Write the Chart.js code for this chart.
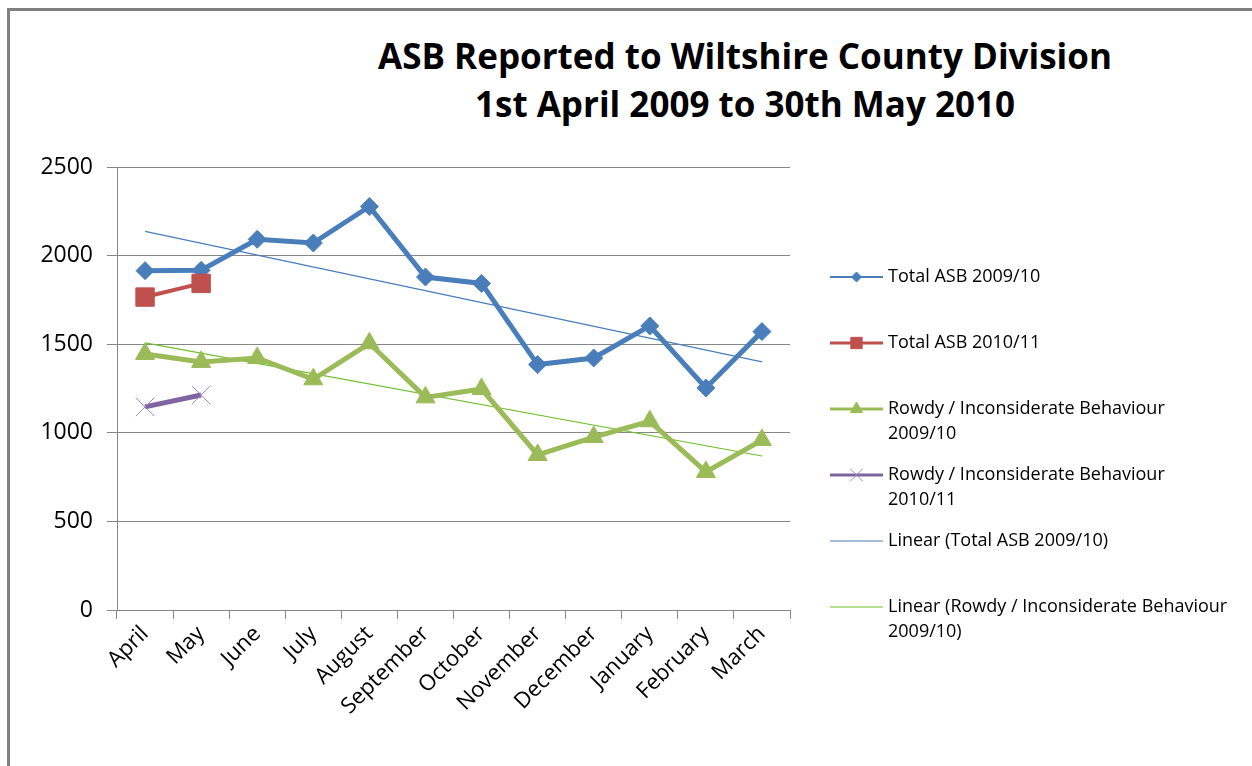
<!DOCTYPE html>
<html lang="en">
<head>
    <meta charset="UTF-8">
    <title>ASB Reported to Wiltshire County Division</title>
    <style>
        body {
            margin: 0;
            padding: 0;
            background: #ffffff;
            font-family: "Open Sans", Arial, sans-serif;
        }

        #frame {
            position: absolute;
            left: 7px;
            top: 8px;
            width: 1300px;
            height: 800px;
            border-left: 3px solid #7f7f7f;
            border-top: 3px solid #7f7f7f;
        }

        #title {
            position: absolute;
            left: 345px;
            top: 32px;
            width: 800px;
            text-align: center;
            font-weight: 700;
            font-size: 35px;
            line-height: 48px;
            color: #000;
        }

        #wrap {
            position: absolute;
            left: 0;
            top: 0;
            width: 1252px;
            height: 766px;
        }
    </style>
</head>
<body>
    <div id="frame"></div>
    <div id="title">ASB Reported to Wiltshire County Division<br>1st April 2009 to 30th May 2010</div>
    <div id="wrap"><canvas id="asbChart" width="1252" height="766"></canvas></div>

    <script src="https://cdn.jsdelivr.net/npm/chart.js@4.4.1/dist/chart.umd.min.js"></script>
    <script>
        const months = ['April', 'May', 'June', 'July', 'August', 'September', 'October',
            'November', 'December', 'January', 'February', 'March'];
        const yTicks = [0, 500, 1000, 1500, 2000, 2500];

        const totalAsb0910 = [1915, 1917, 2092, 2071, 2277, 1879, 1843, 1385, 1422, 1603, 1253, 1571];
        const totalAsb1011 = [1766, 1843, null, null, null, null, null, null, null, null, null, null];
        const rowdy0910 = [1445, 1400, 1422, 1302, 1505, 1200, 1247, 875, 976, 1065, 779, 959];
        const rowdy1011 = [1146, 1213, null, null, null, null, null, null, null, null, null, null];
        // trend lines at first and last month
        const trendTotal0910 = [2137, null, null, null, null, null, null, null, null, null, null, 1400];
        const trendRowdy0910 = [1507, null, null, null, null, null, null, null, null, null, null, 869];

        const gridColor = '#868686';
        const fontFamily = '"Open Sans", Arial, sans-serif';

        // legend drawn on the canvas, Excel style (line swatch + marker, wrapped text)
        const sideLegend = {
            id: 'sideLegend',
            afterDraw(chart) {
                const c = chart.ctx;
                const left = 830, swatch = 53, textX = 888;
                let y = 277;
                c.save();
                c.font = '18px ' + fontFamily;
                c.textBaseline = 'middle';
                chart.data.datasets.forEach(ds => {
                    c.strokeStyle = ds.borderColor;
                    c.lineWidth = ds.legendLine || 2;
                    c.beginPath();
                    c.moveTo(left, y);
                    c.lineTo(left + swatch, y);
                    c.stroke();
                    if (ds.pointRadius > 0) {
                        c.fillStyle = ds.pointBackgroundColor;
                        c.strokeStyle = ds.pointBorderColor;
                        c.lineWidth = ds.pointBorderWidth;
                        Chart.helpers.drawPoint(c, {
                            pointStyle: ds.pointStyle,
                            radius: ds.legendRadius,
                            borderWidth: ds.pointBorderWidth,
                            rotation: 0
                        }, left + swatch / 2, y);
                    }
                    // wrap the last word when the label is long
                    let lines = [ds.label];
                    if (c.measureText(ds.label).width > 320) {
                        const cut = ds.label.lastIndexOf(' ');
                        lines = [ds.label.slice(0, cut), ds.label.slice(cut + 1)];
                    }
                    c.fillStyle = '#000';
                    lines.forEach((t, i) => c.fillText(t, textX, y + i * 25));
                    y += 66;
                });
                c.restore();
            }
        };

        const ctx = document.getElementById('asbChart').getContext('2d');

        new Chart(ctx, {
            type: 'line',
            data: {
                labels: months,
                datasets: [
                    {
                        label: 'Total ASB 2009/10',
                        data: totalAsb0910,
                        borderColor: '#4a7ebb',
                        backgroundColor: '#4a7ebb',
                        pointBackgroundColor: '#4a7ebb',
                        pointBorderColor: '#4a7ebb',
                        borderWidth: 5,
                        pointStyle: 'rectRot',
                        pointRadius: 9,
                        pointBorderWidth: 1,
                        legendRadius: 5,
                        legendLine: 2,
                        order: 2
                    },
                    {
                        label: 'Total ASB 2010/11',
                        data: totalAsb1011,
                        borderColor: '#c0504d',
                        backgroundColor: '#c0504d',
                        pointBackgroundColor: '#c0504d',
                        pointBorderColor: '#c0504d',
                        borderWidth: 4,
                        pointStyle: 'rect',
                        pointRadius: 13,
                        pointBorderWidth: 1,
                        legendRadius: 8,
                        legendLine: 3,
                        order: 1
                    },
                    {
                        label: 'Rowdy / Inconsiderate Behaviour 2009/10',
                        data: rowdy0910,
                        borderColor: '#9bbb59',
                        backgroundColor: '#9bbb59',
                        pointBackgroundColor: '#9bbb59',
                        pointBorderColor: '#9bbb59',
                        borderWidth: 5,
                        pointStyle: 'triangle',
                        pointRadius: 11,
                        pointBorderWidth: 1,
                        legendRadius: 7,
                        legendLine: 3,
                        order: 4
                    },
                    {
                        label: 'Rowdy / Inconsiderate Behaviour 2010/11',
                        data: rowdy1011,
                        borderColor: '#8064a2',
                        backgroundColor: '#8064a2',
                        pointBackgroundColor: '#8064a2',
                        pointBorderColor: '#9a85c0',
                        borderWidth: 5,
                        pointStyle: 'crossRot',
                        pointRadius: 13,
                        pointBorderWidth: 1,
                        legendRadius: 9,
                        legendLine: 3,
                        order: 3
                    },
                    {
                        label: 'Linear (Total ASB 2009/10)',
                        data: trendTotal0910,
                        borderColor: '#4a7ebb',
                        borderWidth: 1.2,
                        pointRadius: 0,
                        spanGaps: true,
                        legendLine: 1.2,
                        order: 6
                    },
                    {
                        label: 'Linear (Rowdy / Inconsiderate Behaviour 2009/10)',
                        data: trendRowdy0910,
                        borderColor: '#6fc02e',
                        borderWidth: 1.2,
                        pointRadius: 0,
                        spanGaps: true,
                        legendLine: 1.2,
                        order: 5
                    }
                ]
            },
            options: {
                responsive: false,
                animation: false,
                layout: {
                    padding: { left: 0, top: 167, right: 462, bottom: 0 }
                },
                plugins: {
                    legend: { display: false },
                    title: { display: false },
                    tooltip: { enabled: false }
                },
                scales: {
                    x: {
                        offset: true,
                        afterFit: scale => { scale.height = 156; },
                        grid: {
                            offset: true,
                            drawOnChartArea: false,
                            drawTicks: true,
                            tickLength: 9,
                            color: gridColor
                        },
                        border: { color: gridColor, width: 1 },
                        ticks: {
                            minRotation: 45,
                            maxRotation: 45,
                            padding: 2,
                            color: '#000',
                            font: { family: fontFamily, size: 22 }
                        }
                    },
                    y: {
                        min: 0,
                        max: 2500,
                        afterFit: scale => { scale.width = 117; },
                        afterBuildTicks: scale => { scale.ticks = yTicks.map(v => ({ value: v })); },
                        grid: {
                            color: gridColor,
                            drawTicks: true,
                            tickLength: 10
                        },
                        border: { color: gridColor, width: 1 },
                        ticks: {
                            padding: 14,
                            color: '#000',
                            callback: v => String(v),
                            font: { family: fontFamily, size: 23 }
                        }
                    }
                }
            },
            plugins: [sideLegend]
        });
    </script>
</body>
</html>
